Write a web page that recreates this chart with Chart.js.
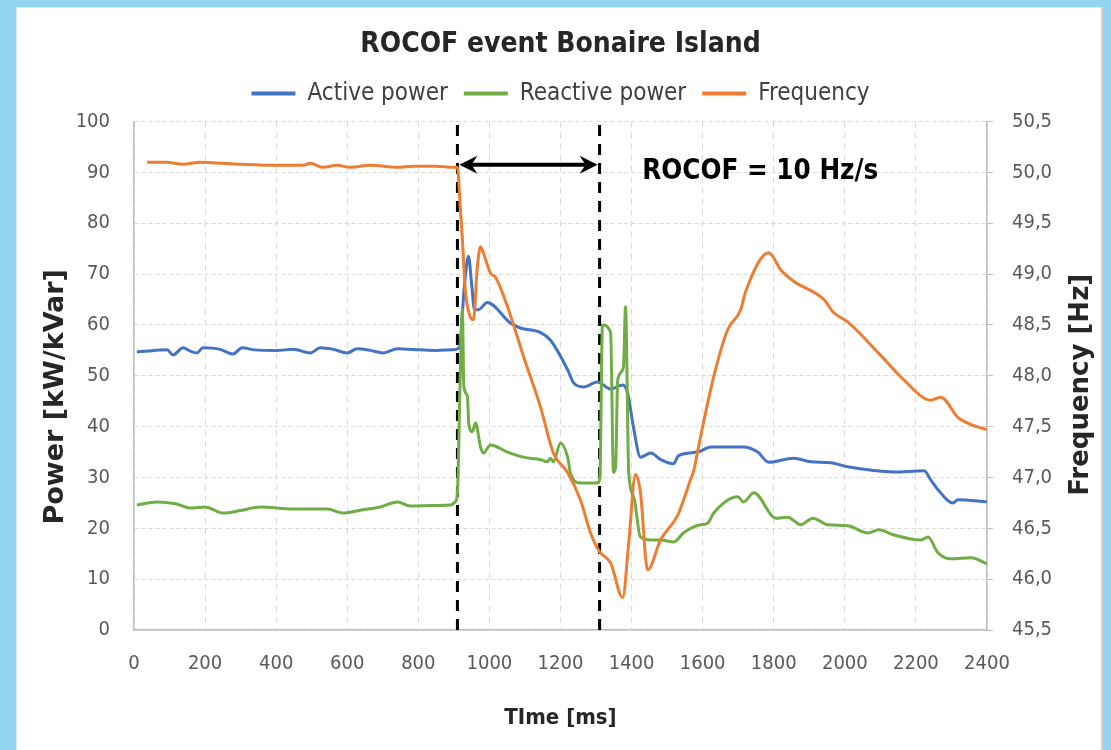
<!DOCTYPE html>
<html><head><meta charset="utf-8">
<script src="https://cdn.jsdelivr.net/npm/chart.js@4.4.1/dist/chart.umd.min.js"></script>
<style>
html,body{margin:0;padding:0;background:#94d5ef;width:1111px;height:750px;overflow:hidden;}
#panel{position:absolute;left:16px;top:7px;width:1084px;height:760px;background:#fff;border-left:1px solid #e4e4e4;border-top:1px solid #e4e4e4;border-right:2px solid #d2d2d2;}
#c{position:absolute;left:0;top:0;}
</style></head><body>
<div id="panel"></div>
<canvas id="c" width="1111" height="750"></canvas>
<script>
// ---- data ----
const timeActive = [8,40,93,110,138,160,177,194,242,279,304,340,400,448,496,524,560,600,628,665,701,741,806,850,899,915,930,941,950,958,969,994,1059,1087,1144,1172,1220,1237,1265,1304,1341,1375,1389,1405,1425,1454,1482,1518,1532,1586,1623,1715,1755,1786,1856,1904,1961,2008,2138,2223,2242,2262,2304,2318,2400];
const activePower = [54.7,54.9,55.1,54.1,55.5,54.8,54.5,55.5,55.2,54.3,55.5,55.1,55.0,55.2,54.5,55.5,55.2,54.5,55.3,55.0,54.5,55.3,55.1,55.0,55.1,55.5,68,73.5,68,63,63,64.4,60.4,59.4,58.5,57,51.2,48.6,47.8,48.8,47.4,48.2,46.6,40,34,34.8,33.5,32.7,34.3,35,36,36,35,33,33.8,33.1,32.9,32.1,31.1,31.3,29.5,27.6,25,25.6,25.2];

const timeReactive = [8,65,120,158,200,251,300,355,448,544,589,640,693,741,777,840,890,904,910,918,924,928,938,942,952,961,975,983,1003,1051,1096,1144,1163,1172,1180,1200,1220,1228,1256,1304,1311,1318,1341,1349,1355,1361,1377,1383,1392,1406,1425,1454,1482,1518,1546,1566,1594,1614,1631,1699,1715,1744,1806,1839,1876,1910,1952,2008,2065,2096,2138,2214,2234,2262,2299,2355,2400];
const reactivePower = [24.6,25.2,24.8,24.0,24.2,23.0,23.5,24.2,23.8,23.8,23.0,23.6,24.2,25.2,24.4,24.5,24.6,25.2,27,50,63,48,46,40.5,39,40.7,36,34.8,36.4,35,34,33.5,33.1,33.8,33.1,36.8,34,30.9,28.9,28.9,30,60,58.5,31,32,49.2,51.6,63.6,30.9,26.2,18.3,17.7,17.7,17.3,19.1,20,20.7,21,23,26.2,25.2,27,22,22.2,20.7,22,20.7,20.5,19.1,19.7,18.7,17.7,18.3,15.2,14,14.2,13];

const timeFreq = [37,90,138,186,250,304,400,476,496,532,572,608,665,741,786,850,899,910,918,924,932,946,955,966,975,983,1003,1017,1051,1096,1144,1180,1220,1256,1285,1310,1341,1375,1392,1411,1425,1445,1482,1530,1566,1575,1594,1631,1670,1707,1721,1786,1820,1856,1941,1969,2008,2093,2166,2242,2270,2318,2355,2400];
const frequency = [50.10,50.10,50.08,50.10,50.09,50.08,50.07,50.07,50.09,50.05,50.07,50.05,50.07,50.05,50.06,50.06,50.05,50.05,49.66,49.34,48.85,48.58,48.55,49.07,49.27,49.21,49.01,48.97,48.68,48.19,47.69,47.24,47.05,46.78,46.45,46.27,46.16,45.82,46.36,47.03,46.85,46.09,46.39,46.63,46.98,47.07,47.4,47.99,48.45,48.65,48.83,49.21,49.04,48.93,48.75,48.62,48.53,48.23,47.96,47.76,47.79,47.59,47.52,47.47];

const seriesLabels = ['Active power','Reactive power','Frequency'];
const eventStart = 910, eventEnd = 1310, arrowLevel = 91.5;
const rocofLabel = 'ROCOF = 10 Hz/s';
const rocofX = 1430, rocofY = 90.2;
const chartTitle = 'ROCOF event Bonaire Island';
const xTitle = 'TIme [ms]', yTitle = 'Power [kW/kVar]', y2Title = 'Frequency [Hz]';

// ---- styling ----
const NARROW = "'DejaVu Sans Condensed', 'Liberation Sans Narrow', sans-serif";
const WIDE = "'DejaVu Sans', Verdana, sans-serif";
const BLUE = '#4472c4', GREEN = '#70ad47', ORANGE = '#ed7d31';
const toXY = (xs, ys) => xs.map((x, i) => ({x, y: ys[i]}));

const annot = {
  id: 'annot',
  afterDatasetsDraw(chart) {
    const {ctx, chartArea, scales: {x, y, y2}} = chart;
    const x1 = x.getPixelForValue(eventStart), x2 = x.getPixelForValue(eventEnd), yy = y.getPixelForValue(arrowLevel);
    ctx.save();
    ctx.strokeStyle = '#000'; ctx.fillStyle = '#000';
    ctx.lineWidth = 4;
    ctx.beginPath(); ctx.moveTo(x1 + 8, yy); ctx.lineTo(x2 - 8, yy); ctx.stroke();
    const head = (tip, dir) => {
      ctx.beginPath();
      ctx.moveTo(tip, yy);
      ctx.lineTo(tip + dir * 18, yy - 9);
      ctx.lineTo(tip + dir * 12, yy);
      ctx.lineTo(tip + dir * 18, yy + 9);
      ctx.closePath(); ctx.fill();
    };
    head(x1 + 2, 1); head(x2 - 2, -1);
    ctx.font = 'bold 27.5px ' + NARROW;
    ctx.textAlign = 'left'; ctx.textBaseline = 'middle';
    ctx.fillText(rocofLabel, x.getPixelForValue(rocofX), y.getPixelForValue(rocofY));
    ctx.restore();
  },
  afterDraw(chart) {
    const {ctx, chartArea, scales: {y, y2}} = chart;
    const midY = (chartArea.top + chartArea.bottom) / 2;
    ctx.save();
    ctx.fillStyle = '#262626';
    ctx.font = 'bold 27px ' + WIDE;
    ctx.textAlign = 'center'; ctx.textBaseline = 'middle';
    ctx.translate(y.left + 36, midY + 21);
    ctx.rotate(-Math.PI / 2);
    ctx.fillText(yTitle, 0, 0);
    ctx.restore();
    ctx.save();
    ctx.fillStyle = '#262626';
    ctx.font = 'bold 26px ' + WIDE;
    ctx.textAlign = 'center'; ctx.textBaseline = 'middle';
    ctx.translate(y2.right - 20, midY + 9);
    ctx.rotate(-Math.PI / 2);
    ctx.fillText(y2Title, 0, 0);
    ctx.restore();
  }
};

const lineDs = (label, xs, ys, color, axis, order) => ({
  label, data: toXY(xs, ys), borderColor: color, backgroundColor: color,
  borderWidth: 3, pointRadius: 0, cubicInterpolationMode: 'monotone', yAxisID: axis, order
});
const vline = (t) => ({
  label: '_marker', data: [{x: t, y: 0}, {x: t, y: 100}], borderColor: '#000', backgroundColor: '#000',
  borderWidth: 3, borderDash: [11, 8], pointRadius: 0, yAxisID: 'y', order: 5
});

new Chart(document.getElementById('c'), {
  type: 'line',
  data: {
    datasets: [
      lineDs(seriesLabels[0], timeActive, activePower, BLUE, 'y', 3),
      lineDs(seriesLabels[1], timeReactive, reactivePower, GREEN, 'y', 2),
      lineDs(seriesLabels[2], timeFreq, frequency, ORANGE, 'y2', 1),
      vline(eventStart), vline(eventEnd)
    ]
  },
  options: {
    responsive: false, animation: false,
    layout: {padding: {top: 14, left: 20, right: 10, bottom: 0}},
    plugins: {
      tooltip: {enabled: false},
      title: {display: true, text: chartTitle, color: '#262626',
        font: {family: NARROW, size: 28, weight: 'bold'}, padding: {top: 14, bottom: 4}},
      legend: {
        display: true, position: 'top',
        labels: {
          color: '#404040', font: {family: NARROW, size: 24}, boxWidth: 44, boxHeight: 4, padding: 16,
          sort: (a, b) => a.datasetIndex - b.datasetIndex,
          generateLabels: (chart) => Chart.defaults.plugins.legend.labels.generateLabels(chart)
            .filter(l => !l.text.startsWith('_')).map(l => ({...l, lineWidth: 0}))
        }
      }
    },
    scales: {
      x: {
        type: 'linear', min: 0, max: 2400,
        ticks: {stepSize: 200, color: '#595959', font: {family: NARROW, size: 20}, padding: 22, maxRotation: 0,
          callback: v => String(v)},
        grid: {color: '#d9d9d9', drawTicks: false},
        border: {display: true, color: '#bfbfbf', width: 1.5, dash: [6, 5]},
        title: {display: true, text: xTitle, color: '#262626', font: {family: NARROW, size: 22, weight: 'bold'}, padding: {top: 0, bottom: 19}},
        afterFit: s => { s.height = 120; }
      },
      xPad: {
        type: 'linear', position: 'top', min: 0, max: 1, display: true,
        ticks: {display: false}, grid: {display: false, drawTicks: false}, border: {display: false},
        afterFit: s => { s.height = 6; }
      },
      y: {
        position: 'left', min: 0, max: 100,
        ticks: {stepSize: 10, color: '#595959', font: {family: NARROW, size: 20}, padding: 24},
        grid: {color: '#d9d9d9', drawTicks: false},
        border: {display: true, color: '#bfbfbf', width: 1.5, dash: [4, 3]},
        title: {display: false},
        afterFit: s => { s.width = 114; }
      },
      y2: {
        position: 'right', min: 45.5, max: 50.5,
        ticks: {stepSize: 0.5, color: '#595959', font: {family: NARROW, size: 20}, padding: 19,
          callback: v => v.toFixed(1).replace('.', ',')},
        grid: {drawOnChartArea: false, drawTicks: true, tickLength: 6, tickColor: '#bfbfbf'},
        border: {display: true, color: '#bfbfbf', width: 1.5},
        title: {display: false},
        afterFit: s => { s.width = 114; }
      }
    }
  },
  plugins: [annot]
});
</script>
</body></html>
